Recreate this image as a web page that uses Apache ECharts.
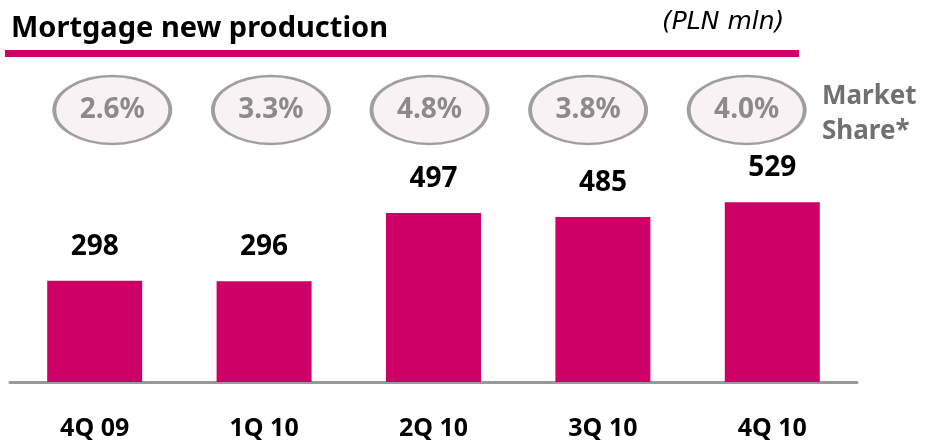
<!DOCTYPE html>
<html>
<head>
<meta charset="utf-8">
<script src="https://cdn.jsdelivr.net/npm/echarts@6/dist/echarts.min.js"></script>
<style>
  html, body { margin: 0; padding: 0; background: #fff; }
  #chart { width: 934px; height: 441px; }
</style>
</head>
<body>
<div id="chart"></div>
<script>
// Quarterly mortgage new production (PLN mln) and market share
const quarters = ['4Q 09', '1Q 10', '2Q 10', '3Q 10', '4Q 10'];
const production = [298, 296, 497, 485, 529];
const marketShare = [2.6, 3.3, 4.8, 3.8, 4.0];

const PINK = '#cc0066';
const GREY_TEXT = '#707070';
const FONT = '"Noto Sans", "DejaVu Sans", sans-serif';

const chart = echarts.init(document.getElementById('chart'));

chart.setOption({
  animation: false,
  title: {
    text: 'Mortgage new production',
    left: 6,
    top: 9,
    textStyle: { fontFamily: FONT, fontWeight: 'bold', fontSize: 29, color: '#000' }
  },
  graphic: [
    { type: 'rect', left: 5, top: 50, shape: { width: 794, height: 7 }, style: { fill: PINK } },
    {
      type: 'text', left: 662, top: 10,
      style: { text: '(PLN mln)', fontFamily: '"DejaVu Sans", sans-serif', fontStyle: 'italic', fontSize: 25, fill: '#000' }
    },
    {
      type: 'text', left: 822, top: 79,
      style: {
        text: 'Market\nShare*', fontFamily: FONT, fontWeight: 'bold', fontSize: 26,
        lineHeight: 35, fill: GREY_TEXT
      }
    }
  ],
  grid: [
    { left: 10, width: 847, top: 178, bottom: 58 },
    { left: 33, width: 793, top: 78, height: 64 }
  ],
  xAxis: [
    {
      type: 'category', gridIndex: 0, data: quarters,
      axisLine: { lineStyle: { color: '#999', width: 3 } },
      axisTick: { show: false },
      axisLabel: {
        margin: 34, fontFamily: FONT, fontWeight: 'bold', fontSize: 25, color: '#000'
      }
    },
    { type: 'category', gridIndex: 1, data: quarters, show: false }
  ],
  yAxis: [
    { type: 'value', gridIndex: 0, min: 0, max: 600, show: false, splitLine: { show: false } },
    { type: 'value', gridIndex: 1, min: 0, max: 1, show: false, splitLine: { show: false } }
  ],
  series: [
    {
      type: 'bar', xAxisIndex: 0, yAxisIndex: 0,
      data: production, barWidth: 95,
      itemStyle: { color: PINK },
      label: {
        show: true, position: 'top', distance: 20,
        fontFamily: FONT, fontWeight: 'bold', fontSize: 28, color: '#000'
      }
    },
    {
      type: 'scatter', xAxisIndex: 1, yAxisIndex: 1,
      data: marketShare.map((v, i) => [quarters[i], 0.5, v]),
      symbol: 'circle', symbolSize: [116, 68],
      itemStyle: { color: '#f8eff3', borderColor: '#888', borderWidth: 3 },
      label: {
        show: true, position: 'inside',
        formatter: p => p.value[2].toFixed(1) + '%',
        fontFamily: FONT, fontWeight: 'bold', fontSize: 28, color: GREY_TEXT
      }
    }
  ]
});
</script>
</body>
</html>
